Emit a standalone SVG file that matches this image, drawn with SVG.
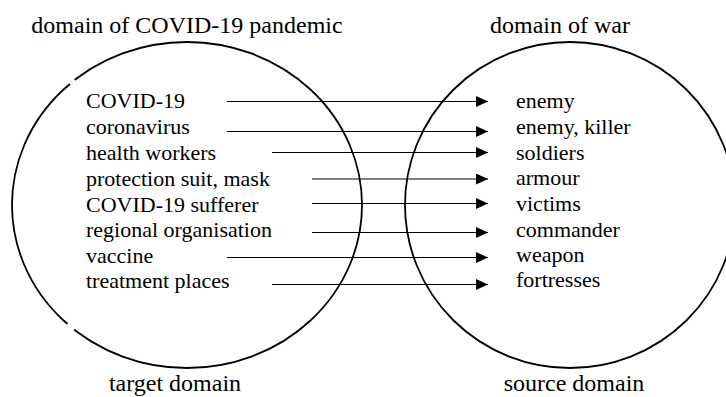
<svg xmlns="http://www.w3.org/2000/svg" width="726" height="397" viewBox="0 0 726 397" font-family="'Liberation Serif', 'Times New Roman', serif">
<style>
text{font-family:'Liberation Serif','Times New Roman',serif;fill:#000}
.h{font-size:24px;text-anchor:middle}
.t{font-size:22px}
.dom{fill:none;stroke:#000;stroke-width:1.8}
.gap{stroke:#fff;stroke-width:4}
.arr{stroke:#000;stroke-width:1.1;fill:none;marker-end:url(#ah)}
</style>
<defs>
<marker id="ah" markerUnits="userSpaceOnUse" markerWidth="12" markerHeight="11" refX="12" refY="5.5" orient="auto">
<path d="M0,0 L12,5.5 L0,11 Z" fill="#000"/>
</marker>
</defs>
<rect width="726" height="397" fill="#fff"/>
<g id="target">
<ellipse class="dom" cx="187" cy="205" rx="175" ry="163"/>
<line class="gap" x1="69.5" y1="83.5" x2="74.5" y2="79.5"/>
<line class="gap" x1="68.5" y1="323" x2="73.5" y2="330"/>
<text class="h" x="187" y="33">domain of COVID-19 pandemic</text>
<text class="h" x="175" y="391">target domain</text>
<text class="t" x="86" y="108">COVID-19</text>
<text class="t" x="86" y="134">coronavirus</text>
<text class="t" x="86" y="160">health workers</text>
<text class="t" x="86" y="186">protection suit, mask</text>
<text class="t" x="86" y="211.5">COVID-19 sufferer</text>
<text class="t" x="86" y="237">regional organisation</text>
<text class="t" x="86" y="262.5">vaccine</text>
<text class="t" x="86" y="288">treatment places</text>
</g>
<g id="source">
<ellipse class="dom" cx="570" cy="205" rx="165" ry="163"/>
<text class="h" x="560" y="33">domain of war</text>
<text class="h" x="574" y="391">source domain</text>
<text class="t" x="516" y="108">enemy</text>
<text class="t" x="516" y="134">enemy, killer</text>
<text class="t" x="516" y="160">soldiers</text>
<text class="t" x="516" y="185">armour</text>
<text class="t" x="516" y="211">victims</text>
<text class="t" x="516" y="237">commander</text>
<text class="t" x="516" y="262">weapon</text>
<text class="t" x="516" y="287">fortresses</text>
</g>
<g id="connectors">
<line class="arr" x1="227" y1="101.5" x2="488" y2="101.5"/>
<line class="arr" x1="227" y1="131.5" x2="488" y2="131.5"/>
<line class="arr" x1="272" y1="152.5" x2="488" y2="152.5"/>
<line class="arr" x1="312" y1="179" x2="488" y2="179"/>
<line class="arr" x1="312" y1="203.5" x2="488" y2="203.5"/>
<line class="arr" x1="312" y1="232.5" x2="488" y2="232.5"/>
<line class="arr" x1="227" y1="257.5" x2="488" y2="257.5"/>
<line class="arr" x1="272" y1="284.5" x2="488" y2="284.5"/>
</g>
</svg>
